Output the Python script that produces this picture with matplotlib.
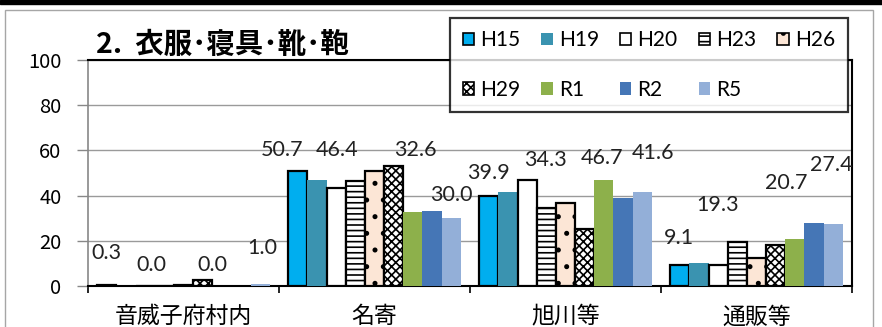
import matplotlib
matplotlib.use('Agg')
import matplotlib.pyplot as plt
import numpy as np
from matplotlib.patches import Patch, Rectangle

plt.rcParams['font.family'] = ['Noto Sans CJK JP', 'DejaVu Sans']
plt.rcParams['hatch.linewidth'] = 1.2

# data
categories = ['音威子府村内', '名寄', '旭川等', '通販等']
years = ['H15', 'H19', 'H20', 'H23', 'H26', 'H29', 'R1', 'R2', 'R5']
h15 = [0.3, 50.7, 39.9, 9.1]
h19 = [0.0, 46.9, 41.4, 10.0]
h20 = [0.0, 43.5, 46.9, 9.3]
h23 = [0.0, 46.4, 34.3, 19.3]
h26 = [0.4, 51.0, 36.6, 12.2]
h29 = [2.6, 53.1, 25.2, 18.1]
r1 = [0.0, 32.6, 46.7, 20.7]
r2 = [0.0, 33.0, 38.9, 28.0]
r5 = [1.0, 30.0, 41.6, 27.4]
series = [h15, h19, h20, h23, h26, h29, r1, r2, r5]
labelled = ['H15', 'H23', 'R1', 'R5']

# styles
faces = ['#00AEEF', '#3A93B0', 'white', 'white', '#FCE6D6', 'white',
         '#8DB04B', '#4576B6', '#93AFD8']
edges = ['black', None, 'black', 'black', 'black', 'black', None, None, None]
hatches = [None, None, None, '---', '.', 'xxxx', None, None, None]

# label placement (lift above bar in data units, x shift in px)
label_lift = {'H15': [14.3, 9.5, 10.1, 12.1],
              'H23': [9.3, 13.8, 21.5, 16.5],
              'R1': [9.3, 27.6, 9.9, 24.9],
              'R5': [15.8, 10.3, 17.2, 26.1]}
label_dx = {'H15': [0, -16, 0, -1],
            'H23': [-13, -18, -1, -20],
            'R1': [-10, 2, -2, -9],
            'R5': [2, 0, 11, -2]}

W, H = 882, 327
fig = plt.figure(figsize=(W / 100, H / 100), dpi=100)
ax = fig.add_axes([88 / W, 41 / H, 764 / W, 226 / H])

x = np.arange(len(categories))
bw = 0.1005
for i, (yr, vals) in enumerate(zip(years, series)):
    pos = x + (i - 4) * bw
    ax.bar(pos, vals, width=bw, color=faces[i],
           edgecolor=edges[i] if edges[i] else faces[i],
           linewidth=1.6 if edges[i] else 0, hatch=hatches[i], zorder=3)
    if yr in labelled:
        for j, v in enumerate(vals):
            ax.annotate(f'{v:.1f}', xy=(pos[j], v + label_lift[yr][j]),
                        xytext=(label_dx[yr][j], 0), textcoords='offset pixels',
                        ha='center', va='center', fontsize=15.5,
                        family=['Lato', 'DejaVu Sans'], color='#222222', zorder=5)

ax.set_xlim(-0.5, 3.5)
ax.set_ylim(0, 100)
ax.set_yticks(range(0, 101, 20))
ax.set_xticks(x)
ax.set_xticklabels(categories, fontsize=16.5)
ax.set_xticks(np.arange(-0.5, 4, 1), minor=True)
ax.tick_params(axis='x', which='major', length=0, pad=14)
ax.tick_params(axis='x', which='minor', length=5, width=1.2, color='black')
ax.tick_params(axis='y', length=8, width=1, color='#888888', pad=11, labelsize=14.5)
ax.grid(axis='y', color='#9a9a9a', linewidth=1, zorder=0)
ax.set_axisbelow(True)
for s in ['top', 'right', 'bottom']:
    ax.spines[s].set_color('black')
    ax.spines[s].set_linewidth(1.5)
ax.spines['left'].set_color('#888888')
ax.spines['left'].set_linewidth(1.2)

# title
fig.text(96 / W, 1 - 45 / H, '2.  衣服･寝具･靴･鞄', fontsize=20.5, fontweight='bold',
         ha='left', va='center')

# legend (row order like the original)
handles = [Patch(facecolor=faces[i], edgecolor=edges[i] if edges[i] else faces[i],
                 hatch=hatches[i], linewidth=1.2 if edges[i] else 0, label=years[i])
           for i in range(len(years))]
order = [0, 5, 1, 6, 2, 7, 3, 8, 4]
leg = fig.legend([handles[k] for k in order], [years[k] for k in order],
                 ncol=5, loc='upper left',
                 bbox_to_anchor=(450 / W, 1 - 18 / H),
                 bbox_transform=fig.transFigure,
                 frameon=True, fancybox=False, edgecolor='black',
                 prop={'family': ['Lato', 'DejaVu Sans'], 'size': 15},
                 handlelength=0.55, handleheight=0.55, handletextpad=0.3,
                 columnspacing=1.0, labelspacing=1.4, borderpad=0.6,
                 borderaxespad=0)
leg.get_frame().set_linewidth(1.6)
leg.set_zorder(10)

# outer frame and top band
fig.patches.append(Rectangle((5 / W, -0.05), 868 / W, 1.05 - 10 / H,
                             transform=fig.transFigure, fill=False,
                             edgecolor='#a6a6a6', linewidth=1))
fig.patches.append(Rectangle((0, 1 - 4 / H), 1, 4 / H,
                             transform=fig.transFigure, color='black'))

fig.savefig('out.png', dpi=100)
